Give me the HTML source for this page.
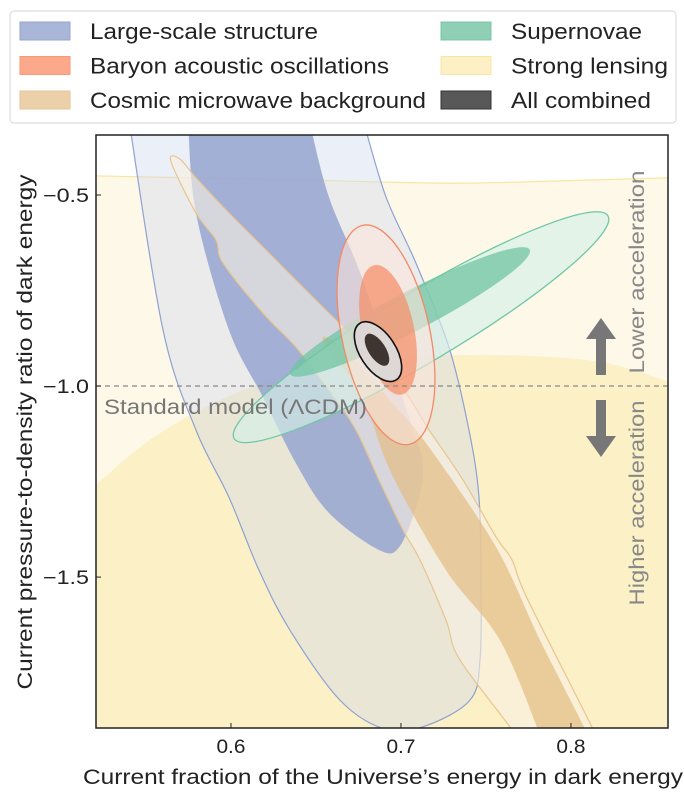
<!DOCTYPE html>
<html><head><meta charset="utf-8">
<style>
html,body{margin:0;padding:0;background:#fff;}
body{width:684px;height:800px;position:relative;overflow:hidden;font-family:"Liberation Sans",Arial,sans-serif;}
svg{position:absolute;left:0;top:0;}
</style></head>
<body>
<svg id="chart" width="684" height="800">
  <defs><clipPath id="clip"><rect x="96" y="135" width="572" height="593"/></clipPath></defs>
  <g id="plot" clip-path="url(#clip)"></g>
  <g id="axes"></g>
  <g id="legend"></g>
</svg>
<script>
// ---- data (data coordinates: x = dark energy fraction, y = w) ----
const xTicks = [0.6, 0.7, 0.8];
const yTicks = [-0.5, -1.0, -1.5];
const yTickLabels = ["\u22120.5", "\u22121.0", "\u22121.5"];
const lensUpper = [[0.5206,-0.450],[0.6406,-0.461],[0.7288,-0.469],[0.7935,-0.463],[0.8582,-0.455]];
const lensLower = [[0.5206,-1.259],[0.5524,-1.141],[0.5935,-1.037],[0.6406,-0.963],[0.6994,-0.927],[0.7582,-0.919],[0.8171,-0.937],[0.8582,-0.990]];
const lssOuter = [[0.5385,-0.250],[0.5400,-0.304],[0.5600,-0.853],[0.5794,-1.115],[0.5988,-1.291],[0.6165,-1.482],[0.6347,-1.639],[0.6641,-1.822],[0.6906,-1.898],[0.7141,-1.890],[0.7406,-1.822],[0.7465,-1.717],[0.7471,-1.508],[0.7459,-1.291],[0.7400,-1.115],[0.7282,-0.898],[0.7088,-0.678],[0.6912,-0.505],[0.6776,-0.304],[0.6730,-0.250]];
const lssInner = [[0.5738,-0.250],[0.5747,-0.304],[0.5794,-0.547],[0.5988,-0.853],[0.6188,-1.029],[0.6382,-1.202],[0.6576,-1.332],[0.6871,-1.429],[0.6994,-1.419],[0.7106,-1.291],[0.7129,-1.202],[0.7071,-1.115],[0.6776,-0.723],[0.6576,-0.505],[0.6459,-0.304],[0.6425,-0.250]];
const cmbOuter = [[0.8170,-1.960],[0.8147,-1.914],[0.7747,-1.560],[0.7653,-1.455],[0.7559,-1.395],[0.7365,-1.246],[0.7165,-1.115],[0.6971,-0.984],[0.6576,-0.809],[0.6382,-0.723],[0.6188,-0.636],[0.5988,-0.547],[0.5794,-0.455],[0.5700,-0.406],[0.5647,-0.412],[0.5794,-0.547],[0.5912,-0.618],[0.5953,-0.678],[0.6188,-0.809],[0.6382,-0.898],[0.6576,-1.010],[0.6735,-1.115],[0.6871,-1.246],[0.7012,-1.377],[0.7112,-1.455],[0.7265,-1.613],[0.7347,-1.717],[0.7676,-1.914],[0.7700,-1.960]];
const cmbInner = [[0.8120,-1.960],[0.8100,-1.914],[0.7818,-1.665],[0.7559,-1.421],[0.7165,-1.160],[0.6971,-1.055],[0.6670,-0.906],[0.6541,-0.880],[0.6776,-1.029],[0.6935,-1.220],[0.7265,-1.482],[0.7582,-1.665],[0.7818,-1.914],[0.7840,-1.960]];
// ellipses: [cx, cy, semi-axis x (x-units), semi-axis y (y-units), angle deg]
const snOuter = [0.7118,-0.846,0.128,0.092,-30.8];
const snInner = [0.7053,-0.806,0.0794,0.052,-27.5];
const baoOuter = [0.6912,-0.866,0.0259,0.293,-12];
const baoInner = [0.6924,-0.853,0.0153,0.173,-12];
const allOuter = [0.6865,-0.910,0.0105,0.088,-33];
const allInner = [0.6859,-0.905,0.0050,0.048,-33];

const X0=96, X1=668, Y0=135, Y1=728;
const xMin=0.5206, xMax=0.8571, yMax=-0.343, yMin=-1.895;
const sx = v => X0 + (v-xMin)/(xMax-xMin)*(X1-X0);
const sy = v => Y0 + (yMax-v)/(yMax-yMin)*(Y1-Y0);
const NS='http://www.w3.org/2000/svg';
const plot=document.getElementById('plot'), axes=document.getElementById('axes'), legend=document.getElementById('legend');
function mk(tag, attrs, parent){const e=document.createElementNS(NS,tag);for(const k in attrs)e.setAttribute(k,attrs[k]);parent.appendChild(e);return e;}
function smooth(pts){
  const p=pts.map(d=>[sx(d[0]),sy(d[1])]);const n=p.length;let s='M'+p[0][0]+','+p[0][1];
  const get=i=>p[Math.max(0,Math.min(n-1,i))];
  for(let i=0;i<n-1;i++){const a=get(i-1),b=get(i),c=get(i+1),d=get(i+2);
    s+=' C'+(b[0]+(c[0]-a[0])/6)+','+(b[1]+(c[1]-a[1])/6)+' '+(c[0]-(d[0]-b[0])/6)+','+(c[1]-(d[1]-b[1])/6)+' '+c[0]+','+c[1];}
  return s;
}
function ellA(e){
  const cx=sx(e[0]),cy=sy(e[1]),rx=e[2]/(xMax-xMin)*(X1-X0),ry=e[3]/(yMax-yMin)*(Y1-Y0);
  return {cx:cx,cy:cy,rx:rx,ry:ry,transform:'rotate('+e[4]+' '+cx+' '+cy+')'};
}

mk('rect',{x:X0,y:Y0,width:X1-X0,height:Y1-Y0,fill:'#fff'},plot);
const l1=mk('path',{d:smooth(lensUpper)+' L'+X1+','+Y1+' L'+X0+','+Y1+'Z',fill:'#fdf8e8'},plot);


mk('path',{d:smooth(lensUpper),fill:'none',stroke:'#f8e6a0','stroke-width':1.2},plot);
const l2=mk('path',{d:smooth(lensLower)+' L'+X1+','+Y1+' L'+X0+','+Y1+'Z',fill:'#fcf0c6'},plot);



function poly(pts,fill,stroke,name){const e=mk('path',{d:smooth(pts)+'Z',fill:fill,stroke:stroke,'stroke-width':1.2},plot);
  
  return e;}
poly(lssOuter,'rgba(205,214,238,0.40)','#8ea2d2','lss-outer-contour');
poly(lssInner,'rgba(150,165,208,0.85)','none','lss-inner-contour');
poly(cmbOuter,'rgba(248,240,226,0.6)','#e8c48e','cmb-outer-contour');
poly(cmbInner,'rgba(226,188,130,0.7)','none','cmb-inner-contour');

function ell(e,fill,stroke,sw,name){const el=mk('ellipse',Object.assign(ellA(e),{fill:fill,stroke:stroke,'stroke-width':sw}),plot);
  
  return el;}
ell(snOuter,'rgba(214,240,230,0.65)','#6fc8a5',1.3,'sn-outer-contour');
ell(snInner,'rgba(112,196,163,0.75)','none',0,'sn-inner-contour');
ell(baoOuter,'rgba(252,228,218,0.6)','#f28a66',1.3,'bao-outer-contour');
ell(baoInner,'rgba(246,140,100,0.7)','none',0,'bao-inner-contour');
ell(allOuter,'#ddd8d6','#111',1.6,'combined-outer-contour');
ell(allInner,'#3e3531','none',0,'combined-inner-contour');

const ref=mk('line',{x1:X0,x2:X1,y1:sy(-1),y2:sy(-1),stroke:'#888','stroke-width':1.3,'stroke-dasharray':'5,4'},plot);


const rt=mk('text',{x:104,y:sy(-1)+28,fill:'#777','font-size':21,textLength:263,lengthAdjust:'spacingAndGlyphs'},plot);rt.textContent='Standard model (\u039BCDM)';



const au=mk('path',{d:'M601,318 L616,339 L606,339 L606,375 L596,375 L596,339 L586,339Z',fill:'#777'},plot);


const ad=mk('path',{d:'M601,457 L616,436 L606,436 L606,400 L596,400 L596,436 L586,436Z',fill:'#777'},plot);


const t1=mk('text',{x:0,y:0,fill:'#888','font-size':21,'text-anchor':'middle',textLength:203,lengthAdjust:'spacingAndGlyphs',transform:'translate(644,272) rotate(-90)'},plot);t1.textContent='Lower acceleration';


const t2=mk('text',{x:0,y:0,fill:'#888','font-size':21,'text-anchor':'middle',textLength:205,lengthAdjust:'spacingAndGlyphs',transform:'translate(644,503) rotate(-90)'},plot);t2.textContent='Higher acceleration';



const fr=mk('rect',{x:X0,y:Y0,width:X1-X0,height:Y1-Y0,fill:'none',stroke:'#222','stroke-width':1.5},axes);


xTicks.forEach(v=>{const x=sx(v);mk('line',{x1:x,x2:x,y1:Y1,y2:Y1-5,stroke:'#222','stroke-width':1},axes);
  const t=mk('text',{x:x,y:Y1+25,'text-anchor':'middle','font-size':19,fill:'#222',textLength:29,lengthAdjust:'spacingAndGlyphs'},axes);t.textContent=v.toFixed(1);
  
  });
yTicks.forEach((v,i)=>{const y=sy(v);mk('line',{x1:X0,x2:X0+5,y1:y,y2:y,stroke:'#222','stroke-width':1},axes);
  const t=mk('text',{x:X0-7,y:y+7,'text-anchor':'end','font-size':19,fill:'#222',textLength:46,lengthAdjust:'spacingAndGlyphs'},axes);t.textContent=yTickLabels[i];
  
  });
const xl=mk('text',{x:383,y:784,'text-anchor':'middle','font-size':21,fill:'#222',textLength:600,lengthAdjust:'spacingAndGlyphs'},axes);xl.textContent='Current fraction of the Universe\u2019s energy in dark energy';


const yl=mk('text',{x:0,y:0,'text-anchor':'middle','font-size':21,fill:'#222',textLength:515,lengthAdjust:'spacingAndGlyphs',transform:'translate(32,432) rotate(-90)'},axes);yl.textContent='Current pressure-to-density ratio of dark energy';



const lb=mk('rect',{x:10,y:11,width:666,height:112,rx:4,fill:'#fff',stroke:'#ddd','stroke-width':1.2},legend);


const legNames=['Large-scale structure','Baryon acoustic oscillations','Cosmic microwave background','Supernovae','Strong lensing','All combined'];
const legWidths=[228,299,336,131,157,140];
const legFill=['#a9b6d8','#fba98a','#ecd0aa','#8fcfb5','#fdf0c4','#585858'];
const legStroke=['#95a6d0','#f79a78','#e6c598','#7cc5a7','#f7e5a8','#333'];
legNames.forEach((n,i)=>{const col=i<3?0:1,row=i%3;const x0=col?441:20,y=31+row*34.5;
  const s=mk('rect',{x:x0,y:y-9,width:50,height:18,fill:legFill[i],stroke:legStroke[i],'stroke-width':1},legend);
  
  
  const t=mk('text',{x:x0+70,y:y+8,'font-size':22,fill:'#222',textLength:legWidths[i],lengthAdjust:'spacingAndGlyphs'},legend);t.textContent=n;
  
  });
</script>
</body></html>
